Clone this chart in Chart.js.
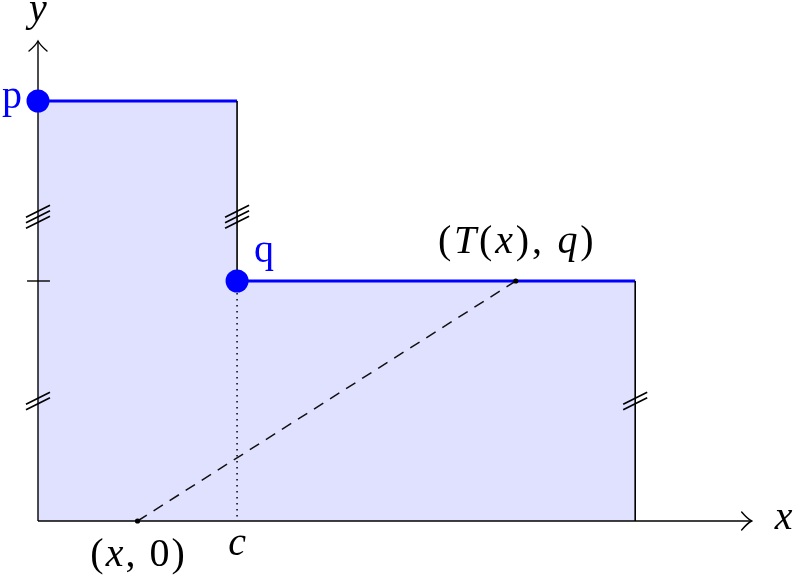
<!DOCTYPE html>
<html>
<head>
<meta charset="utf-8">
<script src="https://cdn.jsdelivr.net/npm/chart.js@4/dist/chart.umd.min.js"></script>
<style>
  html, body { margin: 0; padding: 0; background: #fff; }
  canvas { display: block; }
</style>
</head>
<body>
<canvas id="stepChart" width="796" height="580"></canvas>
<script>
// step function: p on [0, c], q on [c, 6]
const cornerX = [0, 2, 6];          // left edge, c, right end
const levelY = [7, 4];              // p, q
const mapX = [1, 4.8];              // x and T(x)
const axisEnd = [7.17, 8];          // arrow tips of x and y axes
const hashX = [0, 6, 0, 2];         // equal-length marks
const hashY = [2, 2, 5.07, 5.07];
const hashCount = [2, 2, 3, 3];

const BLUE = '#0000ff';
const FILL = 'rgb(224,224,255)';
const SERIF = '"Liberation Serif", "DejaVu Serif", serif';
const FONT_SIZE = 40;

const [x0, c, xEnd] = cornerX;
const [p, q] = levelY;

function seg(a, b) {
  return [{ x: a[0], y: a[1] }, { x: b[0], y: b[1] }];
}

function line(data, color, width, extra) {
  return Object.assign({
    data: data,
    showLine: true,
    borderColor: color,
    borderWidth: width,
    pointRadius: 0,
    fill: false,
    clip: false,
    order: 5
  }, extra || {});
}

const datasets = [
  // shaded region under the step
  line([
    { x: x0, y: 0 }, { x: x0, y: p }, { x: c, y: p },
    { x: c, y: q }, { x: xEnd, y: q }, { x: xEnd, y: 0 }
  ], 'rgba(0,0,0,0)', 0, { fill: 'origin', backgroundColor: FILL, order: 20 }),
  // axes
  line(seg([x0, 0], [axisEnd[0], 0]), '#000', 1.4),
  line(seg([x0, 0], [x0, axisEnd[1]]), '#000', 1.4),
  // tick at q on the y axis
  line(seg([x0 - 0.11, q], [x0 + 0.12, q]), '#000', 1.4),
  // vertical sides
  line(seg([c, p], [c, q]), '#000', 1.6),
  line(seg([xEnd, q], [xEnd, 0]), '#000', 1.6),
  // dotted drop at c
  line(seg([c, q], [c, 0]), '#000', 1.5, { borderDash: [1.5, 4.5] }),
  // dashed map from (x,0) to (T(x),q)
  line(seg([mapX[0], 0], [mapX[1], q]), '#111', 1.5, { borderDash: [11, 8] }),
  // blue levels
  line(seg([x0, p], [c, p]), BLUE, 3),
  line(seg([c, q], [xEnd, q]), BLUE, 3),
  // end points of the dashed segment
  { data: [{ x: mapX[0], y: 0 }, { x: mapX[1], y: q }], pointRadius: 2.6,
    pointBackgroundColor: '#000', pointBorderWidth: 0, clip: false, order: 2 },
  // p and q
  { data: [{ x: x0, y: p }, { x: c, y: q }], pointRadius: 11.5,
    pointBackgroundColor: BLUE, pointBorderWidth: 0, clip: false, order: 1 }
];

// draw text made of italic / upright runs, centred on cx, with a little math spacing
function drawRuns(ctx, runs, cx, baseY, color, gap) {
  gap = gap || 0;
  const glyphs = [];
  runs.forEach(r => {
    for (const ch of r[0]) glyphs.push([ch, r[1]]);
  });
  const fontOf = it => (it ? 'italic ' : '') + FONT_SIZE + 'px ' + SERIF;
  let total = 0;
  glyphs.forEach((g, i) => {
    ctx.font = fontOf(g[1]);
    total += ctx.measureText(g[0]).width + (i < glyphs.length - 1 ? gap : 0);
  });
  let x = cx - total / 2;
  ctx.fillStyle = color;
  ctx.textBaseline = 'alphabetic';
  ctx.textAlign = 'left';
  glyphs.forEach(g => {
    ctx.font = fontOf(g[1]);
    ctx.fillText(g[0], x, baseY);
    x += ctx.measureText(g[0]).width + gap;
  });
}

function arrow(ctx, tx, ty, dir) {
  ctx.save();
  ctx.strokeStyle = '#000';
  ctx.lineWidth = 1.4;
  ctx.lineCap = 'round';
  ctx.beginPath();
  if (dir === 'up') {
    ctx.moveTo(tx - 9, ty + 10);
    ctx.quadraticCurveTo(tx - 2, ty + 4, tx, ty);
    ctx.quadraticCurveTo(tx + 2, ty + 4, tx + 9, ty + 10);
  } else {
    ctx.moveTo(tx - 10, ty - 9);
    ctx.quadraticCurveTo(tx - 4, ty - 2, tx, ty);
    ctx.quadraticCurveTo(tx - 4, ty + 2, tx - 10, ty + 9);
  }
  ctx.stroke();
  ctx.restore();
}

const decorPlugin = {
  id: 'decor',
  afterDatasetsDraw(chart) {
    const ctx = chart.ctx;
    const xs = chart.scales.x, ys = chart.scales.y;
    const px = v => xs.getPixelForValue(v);
    const py = v => ys.getPixelForValue(v);

    arrow(ctx, px(x0), py(axisEnd[1]), 'up');
    arrow(ctx, px(axisEnd[0]), py(0), 'right');

    // hash marks
    ctx.save();
    ctx.strokeStyle = '#000';
    ctx.lineWidth = 1.6;
    hashX.forEach((hx, i) => {
      const cx = px(hx), cy = py(hashY[i]);
      const n = hashCount[i];
      for (let k = 0; k < n; k++) {
        const off = (k - (n - 1) / 2) * 5.5;
        ctx.beginPath();
        ctx.moveTo(cx - 12, cy + 6 + off);
        ctx.lineTo(cx + 12, cy - 6 + off);
        ctx.stroke();
      }
    });
    ctx.restore();

    // labels
    drawRuns(ctx, [['y', true]], px(x0), py(axisEnd[1]) - 20, '#000');
    drawRuns(ctx, [['x', true]], px(axisEnd[0]) + 32, py(0) + 8, '#000');
    drawRuns(ctx, [['p', false]], px(x0) - 26, py(p) + 7, BLUE);
    drawRuns(ctx, [['q', false]], px(c) + 27, py(q) - 19, BLUE);
    drawRuns(ctx, [['c', true]], px(c), py(0) + 34, '#000');
    drawRuns(ctx, [['(', false], ['x', true], [',', false], [' 0)', false]],
      px(mapX[0]), py(0) + 45, '#000', 2);
    drawRuns(ctx, [['(', false], ['T', true], ['(', false], ['x', true], ['),', false], [' ', false], ['q', true], [')', false]],
      px(mapX[1]), py(q) - 28, '#000', 2.8);
  }
};

new Chart(document.getElementById('stepChart'), {
  type: 'scatter',
  data: { datasets: datasets },
  options: {
    responsive: false,
    animation: false,
    devicePixelRatio: 1,
    layout: { padding: { left: 38, right: 8, top: 41, bottom: 59 } },
    scales: {
      x: { type: 'linear', min: 0, max: 7.5, display: false },
      y: { type: 'linear', min: 0, max: 8, display: false }
    },
    plugins: {
      legend: { display: false },
      tooltip: { enabled: false }
    }
  },
  plugins: [decorPlugin]
});
</script>
</body>
</html>
